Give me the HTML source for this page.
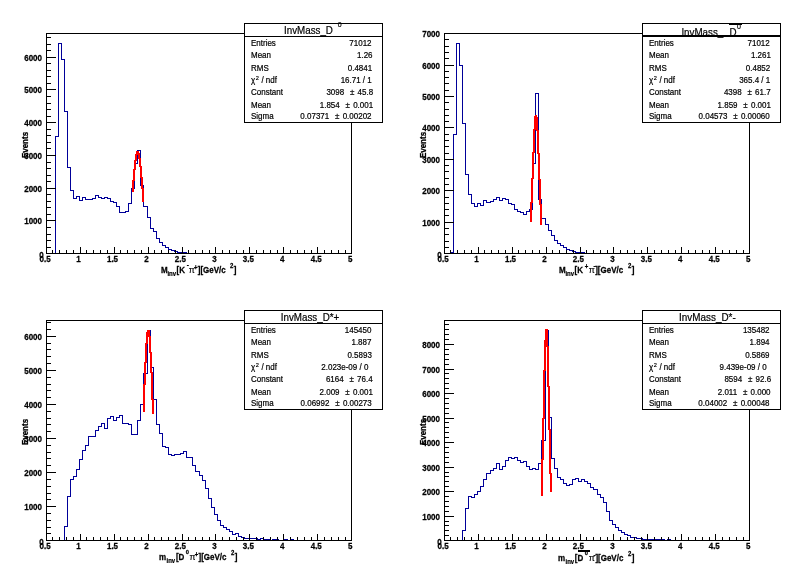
<!DOCTYPE html>
<html lang="en">
<head>
<meta charset="utf-8">
<title>InvMass canvas</title>
<style>
html,body{margin:0;padding:0;background:#fff;}
body{width:796px;height:574px;overflow:hidden;}
svg{display:block;font-family:"Liberation Sans", sans-serif;will-change:transform;}
svg rect, svg path{shape-rendering:crispEdges;}
svg text{fill:#000;}

</style>
</head>
<body>
<svg width="796" height="574" viewBox="0 0 796 574">
<rect x="0" y="0" width="796" height="574" fill="#fff"/>
<g>
<rect x="46" y="33" width="306" height="1" fill="#000"/>
<rect x="351" y="33" width="1" height="221" fill="#000"/>
<path d="M46.5 253.5 L46.5 253.5 L49.5 253.5 L49.5 253.5 L52.5 253.5 L52.5 253.5 L55.5 253.5 L55.5 136.5 L58.5 136.5 L58.5 43.5 L61.5 43.5 L61.5 59.5 L64.5 59.5 L64.5 111.5 L67.5 111.5 L67.5 167.5 L70.5 167.5 L70.5 190.5 L73.5 190.5 L73.5 198.5 L76.5 198.5 L76.5 196.5 L79.5 196.5 L79.5 200.5 L82.5 200.5 L82.5 197.5 L85.5 197.5 L85.5 199.5 L88.5 199.5 L88.5 199.5 L92.5 199.5 L92.5 198.5 L95.5 198.5 L95.5 195.5 L98.5 195.5 L98.5 197.5 L101.5 197.5 L101.5 198.5 L104.5 198.5 L104.5 197.5 L107.5 197.5 L107.5 198.5 L110.5 198.5 L110.5 201.5 L113.5 201.5 L113.5 202.5 L116.5 202.5 L116.5 206.5 L119.5 206.5 L119.5 212.5 L122.5 212.5 L122.5 212.5 L125.5 212.5 L125.5 211.5 L128.5 211.5 L128.5 203.5 L131.5 203.5 L131.5 188.5 L134.5 188.5 L134.5 163.5 L137.5 163.5 L137.5 150.5 L140.5 150.5 L140.5 185.5 L143.5 185.5 L143.5 206.5 L147.5 206.5 L147.5 217.5 L150.5 217.5 L150.5 228.5 L153.5 228.5 L153.5 231.5 L156.5 231.5 L156.5 238.5 L159.5 238.5 L159.5 242.5 L162.5 242.5 L162.5 245.5 L165.5 245.5 L165.5 247.5 L168.5 247.5 L168.5 249.5 L171.5 249.5 L171.5 250.5 L174.5 250.5 L174.5 251.5 L177.5 251.5 L177.5 252.5 L180.5 252.5 L180.5 252.5 L183.5 252.5 L183.5 252.5 L186.5 252.5 L186.5 253.5 L189.5 253.5 L189.5 253.5 L192.5 253.5 L192.5 253.5 L195.5 253.5 L195.5 253.5 L199.5 253.5 L199.5 253.5 L202.5 253.5 L202.5 253.5 L205.5 253.5 L205.5 253.5 L208.5 253.5 L208.5 253.5 L211.5 253.5 L211.5 253.5 L214.5 253.5 L214.5 253.5 L217.5 253.5 L217.5 253.5 L220.5 253.5 L220.5 253.5 L223.5 253.5 L223.5 253.5 L226.5 253.5 L226.5 253.5 L229.5 253.5 L229.5 253.5 L232.5 253.5 L232.5 253.5 L235.5 253.5 L235.5 253.5 L238.5 253.5 L238.5 253.5 L241.5 253.5 L241.5 253.5 L244.5 253.5 L244.5 253.5 L247.5 253.5 L247.5 253.5 L250.5 253.5 L250.5 253.5 L254.5 253.5 L254.5 253.5 L257.5 253.5 L257.5 253.5 L260.5 253.5 L260.5 253.5 L263.5 253.5 L263.5 253.5 L266.5 253.5 L266.5 253.5 L269.5 253.5 L269.5 253.5 L272.5 253.5 L272.5 253.5 L275.5 253.5 L275.5 253.5 L278.5 253.5 L278.5 253.5 L281.5 253.5 L281.5 253.5 L284.5 253.5 L284.5 253.5 L287.5 253.5 L287.5 253.5 L290.5 253.5 L290.5 253.5 L293.5 253.5 L293.5 253.5 L296.5 253.5 L296.5 253.5 L299.5 253.5 L299.5 253.5 L302.5 253.5 L302.5 253.5 L305.5 253.5 L305.5 253.5 L309.5 253.5 L309.5 253.5 L312.5 253.5 L312.5 253.5 L315.5 253.5 L315.5 253.5 L318.5 253.5 L318.5 253.5 L321.5 253.5 L321.5 253.5 L324.5 253.5 L324.5 253.5 L327.5 253.5 L327.5 253.5 L330.5 253.5 L330.5 253.5 L333.5 253.5 L333.5 253.5 L336.5 253.5 L336.5 253.5 L339.5 253.5 L339.5 253.5 L342.5 253.5 L342.5 253.5 L345.5 253.5 L345.5 253.5 L348.5 253.5 L348.5 253.5 L351.5 253.5 L351.5 253.5" fill="none" stroke="#000099" stroke-width="1" stroke-linecap="square" stroke-linejoin="miter"/>
<rect x="132" y="180" width="1" height="12" fill="#ff0000"/>
<rect x="133" y="169" width="1" height="23" fill="#ff0000"/>
<rect x="134" y="160" width="1" height="21" fill="#ff0000"/>
<rect x="135" y="154" width="1" height="16" fill="#ff0000"/>
<rect x="136" y="151" width="1" height="10" fill="#ff0000"/>
<rect x="137" y="151" width="1" height="4" fill="#ff0000"/>
<rect x="138" y="151" width="1" height="8" fill="#ff0000"/>
<rect x="139" y="153" width="1" height="14" fill="#ff0000"/>
<rect x="140" y="158" width="1" height="20" fill="#ff0000"/>
<rect x="141" y="166" width="1" height="23" fill="#ff0000"/>
<rect x="142" y="177" width="1" height="25" fill="#ff0000"/>
<rect x="143" y="188" width="1" height="14" fill="#ff0000"/>
<rect x="46" y="253" width="306" height="1" fill="#000"/>
<rect x="46" y="33" width="1" height="221" fill="#000"/>
<rect x="46" y="247" width="1" height="7" fill="#000"/>
<rect x="52" y="250" width="1" height="4" fill="#000"/>
<rect x="59" y="250" width="1" height="4" fill="#000"/>
<rect x="66" y="250" width="1" height="4" fill="#000"/>
<rect x="73" y="250" width="1" height="4" fill="#000"/>
<rect x="80" y="247" width="1" height="7" fill="#000"/>
<rect x="86" y="250" width="1" height="4" fill="#000"/>
<rect x="93" y="250" width="1" height="4" fill="#000"/>
<rect x="100" y="250" width="1" height="4" fill="#000"/>
<rect x="107" y="250" width="1" height="4" fill="#000"/>
<rect x="114" y="247" width="1" height="7" fill="#000"/>
<rect x="120" y="250" width="1" height="4" fill="#000"/>
<rect x="127" y="250" width="1" height="4" fill="#000"/>
<rect x="134" y="250" width="1" height="4" fill="#000"/>
<rect x="141" y="250" width="1" height="4" fill="#000"/>
<rect x="148" y="247" width="1" height="7" fill="#000"/>
<rect x="154" y="250" width="1" height="4" fill="#000"/>
<rect x="161" y="250" width="1" height="4" fill="#000"/>
<rect x="168" y="250" width="1" height="4" fill="#000"/>
<rect x="175" y="250" width="1" height="4" fill="#000"/>
<rect x="182" y="247" width="1" height="7" fill="#000"/>
<rect x="188" y="250" width="1" height="4" fill="#000"/>
<rect x="195" y="250" width="1" height="4" fill="#000"/>
<rect x="202" y="250" width="1" height="4" fill="#000"/>
<rect x="209" y="250" width="1" height="4" fill="#000"/>
<rect x="215" y="247" width="1" height="7" fill="#000"/>
<rect x="222" y="250" width="1" height="4" fill="#000"/>
<rect x="229" y="250" width="1" height="4" fill="#000"/>
<rect x="236" y="250" width="1" height="4" fill="#000"/>
<rect x="243" y="250" width="1" height="4" fill="#000"/>
<rect x="249" y="247" width="1" height="7" fill="#000"/>
<rect x="256" y="250" width="1" height="4" fill="#000"/>
<rect x="263" y="250" width="1" height="4" fill="#000"/>
<rect x="270" y="250" width="1" height="4" fill="#000"/>
<rect x="277" y="250" width="1" height="4" fill="#000"/>
<rect x="283" y="247" width="1" height="7" fill="#000"/>
<rect x="290" y="250" width="1" height="4" fill="#000"/>
<rect x="297" y="250" width="1" height="4" fill="#000"/>
<rect x="304" y="250" width="1" height="4" fill="#000"/>
<rect x="311" y="250" width="1" height="4" fill="#000"/>
<rect x="317" y="247" width="1" height="7" fill="#000"/>
<rect x="324" y="250" width="1" height="4" fill="#000"/>
<rect x="331" y="250" width="1" height="4" fill="#000"/>
<rect x="338" y="250" width="1" height="4" fill="#000"/>
<rect x="345" y="250" width="1" height="4" fill="#000"/>
<rect x="351" y="247" width="1" height="7" fill="#000"/>
<rect x="46" y="253" width="10" height="1" fill="#000"/>
<rect x="46" y="247" width="5" height="1" fill="#000"/>
<rect x="46" y="240" width="5" height="1" fill="#000"/>
<rect x="46" y="234" width="5" height="1" fill="#000"/>
<rect x="46" y="227" width="5" height="1" fill="#000"/>
<rect x="46" y="220" width="10" height="1" fill="#000"/>
<rect x="46" y="214" width="5" height="1" fill="#000"/>
<rect x="46" y="207" width="5" height="1" fill="#000"/>
<rect x="46" y="201" width="5" height="1" fill="#000"/>
<rect x="46" y="194" width="5" height="1" fill="#000"/>
<rect x="46" y="188" width="10" height="1" fill="#000"/>
<rect x="46" y="181" width="5" height="1" fill="#000"/>
<rect x="46" y="175" width="5" height="1" fill="#000"/>
<rect x="46" y="168" width="5" height="1" fill="#000"/>
<rect x="46" y="162" width="5" height="1" fill="#000"/>
<rect x="46" y="155" width="10" height="1" fill="#000"/>
<rect x="46" y="148" width="5" height="1" fill="#000"/>
<rect x="46" y="142" width="5" height="1" fill="#000"/>
<rect x="46" y="135" width="5" height="1" fill="#000"/>
<rect x="46" y="129" width="5" height="1" fill="#000"/>
<rect x="46" y="122" width="10" height="1" fill="#000"/>
<rect x="46" y="116" width="5" height="1" fill="#000"/>
<rect x="46" y="109" width="5" height="1" fill="#000"/>
<rect x="46" y="103" width="5" height="1" fill="#000"/>
<rect x="46" y="96" width="5" height="1" fill="#000"/>
<rect x="46" y="89" width="10" height="1" fill="#000"/>
<rect x="46" y="83" width="5" height="1" fill="#000"/>
<rect x="46" y="76" width="5" height="1" fill="#000"/>
<rect x="46" y="70" width="5" height="1" fill="#000"/>
<rect x="46" y="63" width="5" height="1" fill="#000"/>
<rect x="46" y="57" width="10" height="1" fill="#000"/>
<rect x="46" y="50" width="5" height="1" fill="#000"/>
<rect x="46" y="44" width="5" height="1" fill="#000"/>
<rect x="46" y="37" width="5" height="1" fill="#000"/>
</g>
<g class="t" font-weight="bold" font-size="8" stroke="#000" stroke-width="0.25">
<text transform="translate(45.10 262.30) scale(0.952 1)" font-size="8.40" text-anchor="middle">0.5</text>
<text transform="translate(78.56 262.00) scale(0.952 1)" font-size="8.40" text-anchor="middle">1</text>
<text transform="translate(112.51 262.00) scale(0.952 1)" font-size="8.40" text-anchor="middle">1.5</text>
<text transform="translate(146.47 262.00) scale(0.952 1)" font-size="8.40" text-anchor="middle">2</text>
<text transform="translate(180.42 262.00) scale(0.952 1)" font-size="8.40" text-anchor="middle">2.5</text>
<text transform="translate(214.37 262.00) scale(0.952 1)" font-size="8.40" text-anchor="middle">3</text>
<text transform="translate(248.33 262.00) scale(0.952 1)" font-size="8.40" text-anchor="middle">3.5</text>
<text transform="translate(282.28 262.00) scale(0.952 1)" font-size="8.40" text-anchor="middle">4</text>
<text transform="translate(316.24 262.00) scale(0.952 1)" font-size="8.40" text-anchor="middle">4.5</text>
<text transform="translate(350.19 262.00) scale(0.952 1)" font-size="8.40" text-anchor="middle">5</text>
<text transform="translate(43.60 258.10) scale(0.952 1)" font-size="8.40" text-anchor="end">0</text>
<text transform="translate(42.00 224.00) scale(0.952 1)" font-size="8.40" text-anchor="end">1000</text>
<text transform="translate(42.00 192.00) scale(0.952 1)" font-size="8.40" text-anchor="end">2000</text>
<text transform="translate(42.00 159.00) scale(0.952 1)" font-size="8.40" text-anchor="end">3000</text>
<text transform="translate(42.00 126.00) scale(0.952 1)" font-size="8.40" text-anchor="end">4000</text>
<text transform="translate(42.00 93.00) scale(0.952 1)" font-size="8.40" text-anchor="end">5000</text>
<text transform="translate(42.00 61.00) scale(0.952 1)" font-size="8.40" text-anchor="end">6000</text>
<text transform="translate(28.4 145.0) rotate(-90) scale(0.952 1)" font-size="8.40" text-anchor="middle">Events</text>
<text transform="translate(161.00 273.00) scale(0.952 1)" font-size="8.40">M</text>
<text transform="translate(167.40 276.30) scale(0.952 1)" font-size="6.30" stroke-width="0.2">inv</text>
<text transform="translate(176.50 273.00) scale(0.952 1)" font-size="8.40">[K</text>
<text transform="translate(186.80 266.60) scale(0.952 1)" font-size="6.72">-</text>
<text transform="translate(188.70 273.00) scale(0.952 1)" font-size="9.24" font-weight="normal" stroke-width="0.15">π</text>
<text transform="translate(193.90 269.60) scale(0.952 1)" font-size="6.30">+</text>
<text transform="translate(197.80 273.00) scale(0.952 1)" font-size="8.40">][GeV/c</text>
<text transform="translate(230.00 268.20) scale(0.952 1)" font-size="6.30">2</text>
<text transform="translate(233.80 273.00) scale(0.952 1)" font-size="8.40">]</text>
</g>
<rect x="244" y="23" width="139" height="100" fill="#fff"/>
<g>
<rect x="244" y="23" width="139" height="1" fill="#000"/>
<rect x="244" y="122" width="139" height="1" fill="#000"/>
<rect x="244" y="23" width="1" height="100" fill="#000"/>
<rect x="382" y="23" width="1" height="100" fill="#000"/>
<rect x="244" y="36" width="139" height="1" fill="#000"/>
</g>
<g class="t" font-size="9.8" stroke="#000" stroke-width="0.2">
<text transform="translate(284.00 34.00) scale(0.952 1)" font-size="10.29">InvMass_D</text>
<text transform="translate(337.70 27.00) scale(0.952 1)" font-size="7.35">0</text>
</g>
<g class="t" font-size="8" stroke="#000" stroke-width="0.2">
<text transform="translate(251.00 46.00) scale(0.952 1)" font-size="8.40">Entries</text>
<text transform="translate(371.55 46.00) scale(0.952 1)" font-size="8.40" text-anchor="end">71012</text>
<text transform="translate(251.00 58.00) scale(0.952 1)" font-size="8.40">Mean</text>
<text transform="translate(372.55 58.00) scale(0.952 1)" font-size="8.40" text-anchor="end">1.26</text>
<text transform="translate(251.00 71.00) scale(0.952 1)" font-size="8.40">RMS</text>
<text transform="translate(372.15 71.00) scale(0.952 1)" font-size="8.40" text-anchor="end">0.4841</text>
<text transform="translate(251.00 83.00) scale(0.952 1)" font-size="8.40">χ</text>
<text transform="translate(255.80 80.00) scale(0.952 1)" font-size="5.88">2</text>
<text transform="translate(261.40 83.00) scale(0.952 1)" font-size="8.40">/ ndf</text>
<text transform="translate(371.75 83.00) scale(0.952 1)" font-size="8.40" text-anchor="end">16.71 / 1</text>
<text transform="translate(251.00 95.00) scale(0.952 1)" font-size="8.40">Constant</text>
<text transform="translate(373.15 95.00) scale(0.952 1)" font-size="8.40" text-anchor="end">45.8</text>
<text transform="translate(349.98 95.00) scale(0.952 1)" font-size="8.40">±</text>
<text transform="translate(344.18 95.00) scale(0.952 1)" font-size="8.40" text-anchor="end">3098</text>
<text transform="translate(251.00 108.00) scale(0.952 1)" font-size="8.40">Mean</text>
<text transform="translate(373.15 108.00) scale(0.952 1)" font-size="8.40" text-anchor="end">0.001</text>
<text transform="translate(345.53 108.00) scale(0.952 1)" font-size="8.40">±</text>
<text transform="translate(339.73 108.00) scale(0.952 1)" font-size="8.40" text-anchor="end">1.854</text>
<text transform="translate(251.00 119.00) scale(0.952 1)" font-size="8.40">Sigma</text>
<text transform="translate(371.55 119.00) scale(0.952 1)" font-size="8.40" text-anchor="end">0.00202</text>
<text transform="translate(335.03 119.00) scale(0.952 1)" font-size="8.40">±</text>
<text transform="translate(329.23 119.00) scale(0.952 1)" font-size="8.40" text-anchor="end">0.07371</text>
</g>
<g>
<rect x="444" y="33" width="306" height="1" fill="#000"/>
<rect x="749" y="33" width="1" height="221" fill="#000"/>
<path d="M444.5 253.5 L444.5 253.5 L447.5 253.5 L447.5 253.5 L450.5 253.5 L450.5 252.5 L453.5 252.5 L453.5 134.5 L456.5 134.5 L456.5 43.5 L459.5 43.5 L459.5 65.5 L462.5 65.5 L462.5 123.5 L465.5 123.5 L465.5 174.5 L468.5 174.5 L468.5 194.5 L471.5 194.5 L471.5 203.5 L474.5 203.5 L474.5 206.5 L477.5 206.5 L477.5 203.5 L480.5 203.5 L480.5 205.5 L483.5 205.5 L483.5 200.5 L486.5 200.5 L486.5 202.5 L490.5 202.5 L490.5 201.5 L493.5 201.5 L493.5 199.5 L496.5 199.5 L496.5 197.5 L499.5 197.5 L499.5 200.5 L502.5 200.5 L502.5 198.5 L505.5 198.5 L505.5 199.5 L508.5 199.5 L508.5 203.5 L511.5 203.5 L511.5 204.5 L514.5 204.5 L514.5 209.5 L517.5 209.5 L517.5 211.5 L520.5 211.5 L520.5 212.5 L523.5 212.5 L523.5 214.5 L526.5 214.5 L526.5 211.5 L529.5 211.5 L529.5 209.5 L532.5 209.5 L532.5 163.5 L535.5 163.5 L535.5 93.5 L538.5 93.5 L538.5 199.5 L541.5 199.5 L541.5 218.5 L545.5 218.5 L545.5 224.5 L548.5 224.5 L548.5 230.5 L551.5 230.5 L551.5 235.5 L554.5 235.5 L554.5 240.5 L557.5 240.5 L557.5 243.5 L560.5 243.5 L560.5 245.5 L563.5 245.5 L563.5 247.5 L566.5 247.5 L566.5 249.5 L569.5 249.5 L569.5 250.5 L572.5 250.5 L572.5 251.5 L575.5 251.5 L575.5 252.5 L578.5 252.5 L578.5 252.5 L581.5 252.5 L581.5 252.5 L584.5 252.5 L584.5 253.5 L587.5 253.5 L587.5 253.5 L590.5 253.5 L590.5 253.5 L593.5 253.5 L593.5 253.5 L597.5 253.5 L597.5 253.5 L600.5 253.5 L600.5 253.5 L603.5 253.5 L603.5 253.5 L606.5 253.5 L606.5 253.5 L609.5 253.5 L609.5 253.5 L612.5 253.5 L612.5 253.5 L615.5 253.5 L615.5 253.5 L618.5 253.5 L618.5 253.5 L621.5 253.5 L621.5 253.5 L624.5 253.5 L624.5 253.5 L627.5 253.5 L627.5 253.5 L630.5 253.5 L630.5 253.5 L633.5 253.5 L633.5 253.5 L636.5 253.5 L636.5 253.5 L639.5 253.5 L639.5 253.5 L642.5 253.5 L642.5 253.5 L645.5 253.5 L645.5 253.5 L648.5 253.5 L648.5 253.5 L652.5 253.5 L652.5 253.5 L655.5 253.5 L655.5 253.5 L658.5 253.5 L658.5 253.5 L661.5 253.5 L661.5 253.5 L664.5 253.5 L664.5 253.5 L667.5 253.5 L667.5 253.5 L670.5 253.5 L670.5 253.5 L673.5 253.5 L673.5 253.5 L676.5 253.5 L676.5 253.5 L679.5 253.5 L679.5 253.5 L682.5 253.5 L682.5 253.5 L685.5 253.5 L685.5 253.5 L688.5 253.5 L688.5 253.5 L691.5 253.5 L691.5 253.5 L694.5 253.5 L694.5 253.5 L697.5 253.5 L697.5 253.5 L700.5 253.5 L700.5 253.5 L703.5 253.5 L703.5 253.5 L707.5 253.5 L707.5 253.5 L710.5 253.5 L710.5 253.5 L713.5 253.5 L713.5 253.5 L716.5 253.5 L716.5 253.5 L719.5 253.5 L719.5 253.5 L722.5 253.5 L722.5 253.5 L725.5 253.5 L725.5 253.5 L728.5 253.5 L728.5 253.5 L731.5 253.5 L731.5 253.5 L734.5 253.5 L734.5 253.5 L737.5 253.5 L737.5 253.5 L740.5 253.5 L740.5 253.5 L743.5 253.5 L743.5 253.5 L746.5 253.5 L746.5 253.5 L749.5 253.5 L749.5 253.5" fill="none" stroke="#000099" stroke-width="1" stroke-linecap="square" stroke-linejoin="miter"/>
<rect x="530" y="202" width="1" height="20" fill="#ff0000"/>
<rect x="531" y="178" width="1" height="44" fill="#ff0000"/>
<rect x="532" y="152" width="1" height="51" fill="#ff0000"/>
<rect x="533" y="129" width="1" height="50" fill="#ff0000"/>
<rect x="534" y="116" width="1" height="37" fill="#ff0000"/>
<rect x="535" y="115" width="1" height="15" fill="#ff0000"/>
<rect x="536" y="115" width="1" height="16" fill="#ff0000"/>
<rect x="537" y="117" width="1" height="37" fill="#ff0000"/>
<rect x="538" y="130" width="1" height="50" fill="#ff0000"/>
<rect x="539" y="153" width="1" height="52" fill="#ff0000"/>
<rect x="540" y="179" width="1" height="46" fill="#ff0000"/>
<rect x="541" y="204" width="1" height="21" fill="#ff0000"/>
<rect x="444" y="253" width="306" height="1" fill="#000"/>
<rect x="444" y="33" width="1" height="221" fill="#000"/>
<rect x="444" y="247" width="1" height="7" fill="#000"/>
<rect x="450" y="250" width="1" height="4" fill="#000"/>
<rect x="457" y="250" width="1" height="4" fill="#000"/>
<rect x="464" y="250" width="1" height="4" fill="#000"/>
<rect x="471" y="250" width="1" height="4" fill="#000"/>
<rect x="478" y="247" width="1" height="7" fill="#000"/>
<rect x="484" y="250" width="1" height="4" fill="#000"/>
<rect x="491" y="250" width="1" height="4" fill="#000"/>
<rect x="498" y="250" width="1" height="4" fill="#000"/>
<rect x="505" y="250" width="1" height="4" fill="#000"/>
<rect x="512" y="247" width="1" height="7" fill="#000"/>
<rect x="518" y="250" width="1" height="4" fill="#000"/>
<rect x="525" y="250" width="1" height="4" fill="#000"/>
<rect x="532" y="250" width="1" height="4" fill="#000"/>
<rect x="539" y="250" width="1" height="4" fill="#000"/>
<rect x="546" y="247" width="1" height="7" fill="#000"/>
<rect x="552" y="250" width="1" height="4" fill="#000"/>
<rect x="559" y="250" width="1" height="4" fill="#000"/>
<rect x="566" y="250" width="1" height="4" fill="#000"/>
<rect x="573" y="250" width="1" height="4" fill="#000"/>
<rect x="580" y="247" width="1" height="7" fill="#000"/>
<rect x="586" y="250" width="1" height="4" fill="#000"/>
<rect x="593" y="250" width="1" height="4" fill="#000"/>
<rect x="600" y="250" width="1" height="4" fill="#000"/>
<rect x="607" y="250" width="1" height="4" fill="#000"/>
<rect x="613" y="247" width="1" height="7" fill="#000"/>
<rect x="620" y="250" width="1" height="4" fill="#000"/>
<rect x="627" y="250" width="1" height="4" fill="#000"/>
<rect x="634" y="250" width="1" height="4" fill="#000"/>
<rect x="641" y="250" width="1" height="4" fill="#000"/>
<rect x="647" y="247" width="1" height="7" fill="#000"/>
<rect x="654" y="250" width="1" height="4" fill="#000"/>
<rect x="661" y="250" width="1" height="4" fill="#000"/>
<rect x="668" y="250" width="1" height="4" fill="#000"/>
<rect x="675" y="250" width="1" height="4" fill="#000"/>
<rect x="681" y="247" width="1" height="7" fill="#000"/>
<rect x="688" y="250" width="1" height="4" fill="#000"/>
<rect x="695" y="250" width="1" height="4" fill="#000"/>
<rect x="702" y="250" width="1" height="4" fill="#000"/>
<rect x="709" y="250" width="1" height="4" fill="#000"/>
<rect x="715" y="247" width="1" height="7" fill="#000"/>
<rect x="722" y="250" width="1" height="4" fill="#000"/>
<rect x="729" y="250" width="1" height="4" fill="#000"/>
<rect x="736" y="250" width="1" height="4" fill="#000"/>
<rect x="743" y="250" width="1" height="4" fill="#000"/>
<rect x="749" y="247" width="1" height="7" fill="#000"/>
<rect x="444" y="253" width="10" height="1" fill="#000"/>
<rect x="444" y="247" width="5" height="1" fill="#000"/>
<rect x="444" y="241" width="5" height="1" fill="#000"/>
<rect x="444" y="234" width="5" height="1" fill="#000"/>
<rect x="444" y="228" width="5" height="1" fill="#000"/>
<rect x="444" y="222" width="10" height="1" fill="#000"/>
<rect x="444" y="215" width="5" height="1" fill="#000"/>
<rect x="444" y="209" width="5" height="1" fill="#000"/>
<rect x="444" y="203" width="5" height="1" fill="#000"/>
<rect x="444" y="197" width="5" height="1" fill="#000"/>
<rect x="444" y="190" width="10" height="1" fill="#000"/>
<rect x="444" y="184" width="5" height="1" fill="#000"/>
<rect x="444" y="178" width="5" height="1" fill="#000"/>
<rect x="444" y="171" width="5" height="1" fill="#000"/>
<rect x="444" y="165" width="5" height="1" fill="#000"/>
<rect x="444" y="159" width="10" height="1" fill="#000"/>
<rect x="444" y="153" width="5" height="1" fill="#000"/>
<rect x="444" y="146" width="5" height="1" fill="#000"/>
<rect x="444" y="140" width="5" height="1" fill="#000"/>
<rect x="444" y="134" width="5" height="1" fill="#000"/>
<rect x="444" y="127" width="10" height="1" fill="#000"/>
<rect x="444" y="121" width="5" height="1" fill="#000"/>
<rect x="444" y="115" width="5" height="1" fill="#000"/>
<rect x="444" y="109" width="5" height="1" fill="#000"/>
<rect x="444" y="102" width="5" height="1" fill="#000"/>
<rect x="444" y="96" width="10" height="1" fill="#000"/>
<rect x="444" y="90" width="5" height="1" fill="#000"/>
<rect x="444" y="83" width="5" height="1" fill="#000"/>
<rect x="444" y="77" width="5" height="1" fill="#000"/>
<rect x="444" y="71" width="5" height="1" fill="#000"/>
<rect x="444" y="65" width="10" height="1" fill="#000"/>
<rect x="444" y="58" width="5" height="1" fill="#000"/>
<rect x="444" y="52" width="5" height="1" fill="#000"/>
<rect x="444" y="46" width="5" height="1" fill="#000"/>
<rect x="444" y="39" width="5" height="1" fill="#000"/>
<rect x="444" y="33" width="10" height="1" fill="#000"/>
</g>
<g class="t" font-weight="bold" font-size="8" stroke="#000" stroke-width="0.25">
<text transform="translate(443.10 262.30) scale(0.952 1)" font-size="8.40" text-anchor="middle">0.5</text>
<text transform="translate(476.55 262.00) scale(0.952 1)" font-size="8.40" text-anchor="middle">1</text>
<text transform="translate(510.51 262.00) scale(0.952 1)" font-size="8.40" text-anchor="middle">1.5</text>
<text transform="translate(544.46 262.00) scale(0.952 1)" font-size="8.40" text-anchor="middle">2</text>
<text transform="translate(578.42 262.00) scale(0.952 1)" font-size="8.40" text-anchor="middle">2.5</text>
<text transform="translate(612.37 262.00) scale(0.952 1)" font-size="8.40" text-anchor="middle">3</text>
<text transform="translate(646.33 262.00) scale(0.952 1)" font-size="8.40" text-anchor="middle">3.5</text>
<text transform="translate(680.28 262.00) scale(0.952 1)" font-size="8.40" text-anchor="middle">4</text>
<text transform="translate(714.24 262.00) scale(0.952 1)" font-size="8.40" text-anchor="middle">4.5</text>
<text transform="translate(748.19 262.00) scale(0.952 1)" font-size="8.40" text-anchor="middle">5</text>
<text transform="translate(441.60 258.10) scale(0.952 1)" font-size="8.40" text-anchor="end">0</text>
<text transform="translate(440.00 226.00) scale(0.952 1)" font-size="8.40" text-anchor="end">1000</text>
<text transform="translate(440.00 194.00) scale(0.952 1)" font-size="8.40" text-anchor="end">2000</text>
<text transform="translate(440.00 163.00) scale(0.952 1)" font-size="8.40" text-anchor="end">3000</text>
<text transform="translate(440.00 131.00) scale(0.952 1)" font-size="8.40" text-anchor="end">4000</text>
<text transform="translate(440.00 100.00) scale(0.952 1)" font-size="8.40" text-anchor="end">5000</text>
<text transform="translate(440.00 69.00) scale(0.952 1)" font-size="8.40" text-anchor="end">6000</text>
<text transform="translate(440.00 37.00) scale(0.952 1)" font-size="8.40" text-anchor="end">7000</text>
<text transform="translate(426.4 145.0) rotate(-90) scale(0.952 1)" font-size="8.40" text-anchor="middle">Events</text>
<text transform="translate(559.00 273.00) scale(0.952 1)" font-size="8.40">M</text>
<text transform="translate(565.40 276.30) scale(0.952 1)" font-size="6.30" stroke-width="0.2">inv</text>
<text transform="translate(574.50 273.00) scale(0.952 1)" font-size="8.40">[K</text>
<text transform="translate(584.80 268.60) scale(0.952 1)" font-size="6.30">+</text>
<text transform="translate(588.80 273.00) scale(0.952 1)" font-size="9.24" font-weight="normal" stroke-width="0.15">π</text>
<text transform="translate(593.50 268.40) scale(0.952 1)" font-size="6.72">-</text>
<text transform="translate(595.20 273.00) scale(0.952 1)" font-size="8.40">][GeV/c</text>
<text transform="translate(628.00 268.20) scale(0.952 1)" font-size="6.30">2</text>
<text transform="translate(631.80 273.00) scale(0.952 1)" font-size="8.40">]</text>
</g>
<rect x="642" y="23" width="139" height="100" fill="#fff"/>
<g>
<rect x="642" y="23" width="139" height="1" fill="#000"/>
<rect x="642" y="122" width="139" height="1" fill="#000"/>
<rect x="642" y="23" width="1" height="100" fill="#000"/>
<rect x="780" y="23" width="1" height="100" fill="#000"/>
<rect x="642" y="36" width="139" height="1" fill="#000"/>
</g>
<g class="t" font-size="9.8" stroke="#000" stroke-width="0.2">
<text transform="translate(681.40 35.60) scale(0.952 1)" font-size="10.29">InvMass_</text>
<text transform="translate(729.40 35.60) scale(0.952 1)" font-size="10.29">D</text>
<text transform="translate(737.00 28.80) scale(0.952 1)" font-size="7.35">0</text>
<rect x="729" y="24" width="13" height="1" fill="#000" stroke="none"/>
<rect x="642" y="35" width="139" height="2" fill="#000" stroke="none"/>
</g>
<g class="t" font-size="8" stroke="#000" stroke-width="0.2">
<text transform="translate(649.00 46.00) scale(0.952 1)" font-size="8.40">Entries</text>
<text transform="translate(769.75 46.00) scale(0.952 1)" font-size="8.40" text-anchor="end">71012</text>
<text transform="translate(649.00 58.00) scale(0.952 1)" font-size="8.40">Mean</text>
<text transform="translate(770.95 58.00) scale(0.952 1)" font-size="8.40" text-anchor="end">1.261</text>
<text transform="translate(649.00 71.00) scale(0.952 1)" font-size="8.40">RMS</text>
<text transform="translate(770.25 71.00) scale(0.952 1)" font-size="8.40" text-anchor="end">0.4852</text>
<text transform="translate(649.00 83.00) scale(0.952 1)" font-size="8.40">χ</text>
<text transform="translate(653.80 80.00) scale(0.952 1)" font-size="5.88">2</text>
<text transform="translate(659.40 83.00) scale(0.952 1)" font-size="8.40">/ ndf</text>
<text transform="translate(770.25 83.00) scale(0.952 1)" font-size="8.40" text-anchor="end">365.4 / 1</text>
<text transform="translate(649.00 95.00) scale(0.952 1)" font-size="8.40">Constant</text>
<text transform="translate(770.65 95.00) scale(0.952 1)" font-size="8.40" text-anchor="end">61.7</text>
<text transform="translate(747.48 95.00) scale(0.952 1)" font-size="8.40">±</text>
<text transform="translate(741.68 95.00) scale(0.952 1)" font-size="8.40" text-anchor="end">4398</text>
<text transform="translate(649.00 108.00) scale(0.952 1)" font-size="8.40">Mean</text>
<text transform="translate(770.95 108.00) scale(0.952 1)" font-size="8.40" text-anchor="end">0.001</text>
<text transform="translate(743.33 108.00) scale(0.952 1)" font-size="8.40">±</text>
<text transform="translate(737.53 108.00) scale(0.952 1)" font-size="8.40" text-anchor="end">1.859</text>
<text transform="translate(649.00 119.00) scale(0.952 1)" font-size="8.40">Sigma</text>
<text transform="translate(769.75 119.00) scale(0.952 1)" font-size="8.40" text-anchor="end">0.00060</text>
<text transform="translate(733.23 119.00) scale(0.952 1)" font-size="8.40">±</text>
<text transform="translate(727.43 119.00) scale(0.952 1)" font-size="8.40" text-anchor="end">0.04573</text>
</g>
<g>
<rect x="46" y="320" width="306" height="1" fill="#000"/>
<rect x="351" y="320" width="1" height="221" fill="#000"/>
<path d="M46.5 540.5 L46.5 540.5 L49.5 540.5 L49.5 540.5 L52.5 540.5 L52.5 540.5 L55.5 540.5 L55.5 540.5 L58.5 540.5 L58.5 540.5 L61.5 540.5 L61.5 540.5 L64.5 540.5 L64.5 526.5 L67.5 526.5 L67.5 496.5 L70.5 496.5 L70.5 479.5 L73.5 479.5 L73.5 476.5 L76.5 476.5 L76.5 469.5 L79.5 469.5 L79.5 459.5 L82.5 459.5 L82.5 450.5 L85.5 450.5 L85.5 445.5 L88.5 445.5 L88.5 436.5 L92.5 436.5 L92.5 436.5 L95.5 436.5 L95.5 430.5 L98.5 430.5 L98.5 426.5 L101.5 426.5 L101.5 423.5 L104.5 423.5 L104.5 428.5 L107.5 428.5 L107.5 418.5 L110.5 418.5 L110.5 416.5 L113.5 416.5 L113.5 420.5 L116.5 420.5 L116.5 417.5 L119.5 417.5 L119.5 415.5 L122.5 415.5 L122.5 423.5 L125.5 423.5 L125.5 423.5 L128.5 423.5 L128.5 424.5 L131.5 424.5 L131.5 434.5 L134.5 434.5 L134.5 434.5 L137.5 434.5 L137.5 420.5 L140.5 420.5 L140.5 404.5 L143.5 404.5 L143.5 373.5 L147.5 373.5 L147.5 330.5 L150.5 330.5 L150.5 367.5 L153.5 367.5 L153.5 399.5 L156.5 399.5 L156.5 424.5 L159.5 424.5 L159.5 433.5 L162.5 433.5 L162.5 446.5 L165.5 446.5 L165.5 447.5 L168.5 447.5 L168.5 454.5 L171.5 454.5 L171.5 455.5 L174.5 455.5 L174.5 454.5 L177.5 454.5 L177.5 454.5 L180.5 454.5 L180.5 453.5 L183.5 453.5 L183.5 451.5 L186.5 451.5 L186.5 457.5 L189.5 457.5 L189.5 457.5 L192.5 457.5 L192.5 465.5 L195.5 465.5 L195.5 471.5 L199.5 471.5 L199.5 475.5 L202.5 475.5 L202.5 480.5 L205.5 480.5 L205.5 488.5 L208.5 488.5 L208.5 498.5 L211.5 498.5 L211.5 507.5 L214.5 507.5 L214.5 514.5 L217.5 514.5 L217.5 520.5 L220.5 520.5 L220.5 525.5 L223.5 525.5 L223.5 527.5 L226.5 527.5 L226.5 529.5 L229.5 529.5 L229.5 531.5 L232.5 531.5 L232.5 534.5 L235.5 534.5 L235.5 533.5 L238.5 533.5 L238.5 536.5 L241.5 536.5 L241.5 537.5 L244.5 537.5 L244.5 538.5 L247.5 538.5 L247.5 538.5 L250.5 538.5 L250.5 538.5 L254.5 538.5 L254.5 538.5 L257.5 538.5 L257.5 539.5 L260.5 539.5 L260.5 538.5 L263.5 538.5 L263.5 539.5 L266.5 539.5 L266.5 539.5 L269.5 539.5 L269.5 540.5 L272.5 540.5 L272.5 539.5 L275.5 539.5 L275.5 539.5 L278.5 539.5 L278.5 540.5 L281.5 540.5 L281.5 540.5 L284.5 540.5 L284.5 539.5 L287.5 539.5 L287.5 540.5 L290.5 540.5 L290.5 539.5 L293.5 539.5 L293.5 540.5 L296.5 540.5 L296.5 540.5 L299.5 540.5 L299.5 540.5 L302.5 540.5 L302.5 540.5 L305.5 540.5 L305.5 540.5 L309.5 540.5 L309.5 540.5 L312.5 540.5 L312.5 540.5 L315.5 540.5 L315.5 540.5 L318.5 540.5 L318.5 540.5 L321.5 540.5 L321.5 540.5 L324.5 540.5 L324.5 540.5 L327.5 540.5 L327.5 540.5 L330.5 540.5 L330.5 540.5 L333.5 540.5 L333.5 540.5 L336.5 540.5 L336.5 540.5 L339.5 540.5 L339.5 540.5 L342.5 540.5 L342.5 540.5 L345.5 540.5 L345.5 540.5 L348.5 540.5 L348.5 540.5 L351.5 540.5 L351.5 540.5" fill="none" stroke="#000099" stroke-width="1" stroke-linecap="square" stroke-linejoin="miter"/>
<rect x="143" y="384" width="1" height="28" fill="#ff0000"/>
<rect x="144" y="362" width="1" height="50" fill="#ff0000"/>
<rect x="145" y="343" width="1" height="42" fill="#ff0000"/>
<rect x="146" y="332" width="1" height="31" fill="#ff0000"/>
<rect x="147" y="330" width="1" height="14" fill="#ff0000"/>
<rect x="148" y="330" width="1" height="7" fill="#ff0000"/>
<rect x="149" y="330" width="1" height="23" fill="#ff0000"/>
<rect x="150" y="336" width="1" height="37" fill="#ff0000"/>
<rect x="151" y="352" width="1" height="48" fill="#ff0000"/>
<rect x="152" y="372" width="1" height="42" fill="#ff0000"/>
<rect x="153" y="399" width="1" height="15" fill="#ff0000"/>
<rect x="46" y="540" width="306" height="1" fill="#000"/>
<rect x="46" y="320" width="1" height="221" fill="#000"/>
<rect x="46" y="534" width="1" height="7" fill="#000"/>
<rect x="52" y="537" width="1" height="4" fill="#000"/>
<rect x="59" y="537" width="1" height="4" fill="#000"/>
<rect x="66" y="537" width="1" height="4" fill="#000"/>
<rect x="73" y="537" width="1" height="4" fill="#000"/>
<rect x="80" y="534" width="1" height="7" fill="#000"/>
<rect x="86" y="537" width="1" height="4" fill="#000"/>
<rect x="93" y="537" width="1" height="4" fill="#000"/>
<rect x="100" y="537" width="1" height="4" fill="#000"/>
<rect x="107" y="537" width="1" height="4" fill="#000"/>
<rect x="114" y="534" width="1" height="7" fill="#000"/>
<rect x="120" y="537" width="1" height="4" fill="#000"/>
<rect x="127" y="537" width="1" height="4" fill="#000"/>
<rect x="134" y="537" width="1" height="4" fill="#000"/>
<rect x="141" y="537" width="1" height="4" fill="#000"/>
<rect x="148" y="534" width="1" height="7" fill="#000"/>
<rect x="154" y="537" width="1" height="4" fill="#000"/>
<rect x="161" y="537" width="1" height="4" fill="#000"/>
<rect x="168" y="537" width="1" height="4" fill="#000"/>
<rect x="175" y="537" width="1" height="4" fill="#000"/>
<rect x="182" y="534" width="1" height="7" fill="#000"/>
<rect x="188" y="537" width="1" height="4" fill="#000"/>
<rect x="195" y="537" width="1" height="4" fill="#000"/>
<rect x="202" y="537" width="1" height="4" fill="#000"/>
<rect x="209" y="537" width="1" height="4" fill="#000"/>
<rect x="215" y="534" width="1" height="7" fill="#000"/>
<rect x="222" y="537" width="1" height="4" fill="#000"/>
<rect x="229" y="537" width="1" height="4" fill="#000"/>
<rect x="236" y="537" width="1" height="4" fill="#000"/>
<rect x="243" y="537" width="1" height="4" fill="#000"/>
<rect x="249" y="534" width="1" height="7" fill="#000"/>
<rect x="256" y="537" width="1" height="4" fill="#000"/>
<rect x="263" y="537" width="1" height="4" fill="#000"/>
<rect x="270" y="537" width="1" height="4" fill="#000"/>
<rect x="277" y="537" width="1" height="4" fill="#000"/>
<rect x="283" y="534" width="1" height="7" fill="#000"/>
<rect x="290" y="537" width="1" height="4" fill="#000"/>
<rect x="297" y="537" width="1" height="4" fill="#000"/>
<rect x="304" y="537" width="1" height="4" fill="#000"/>
<rect x="311" y="537" width="1" height="4" fill="#000"/>
<rect x="317" y="534" width="1" height="7" fill="#000"/>
<rect x="324" y="537" width="1" height="4" fill="#000"/>
<rect x="331" y="537" width="1" height="4" fill="#000"/>
<rect x="338" y="537" width="1" height="4" fill="#000"/>
<rect x="345" y="537" width="1" height="4" fill="#000"/>
<rect x="351" y="534" width="1" height="7" fill="#000"/>
<rect x="46" y="540" width="10" height="1" fill="#000"/>
<rect x="46" y="533" width="5" height="1" fill="#000"/>
<rect x="46" y="527" width="5" height="1" fill="#000"/>
<rect x="46" y="520" width="5" height="1" fill="#000"/>
<rect x="46" y="513" width="5" height="1" fill="#000"/>
<rect x="46" y="506" width="10" height="1" fill="#000"/>
<rect x="46" y="499" width="5" height="1" fill="#000"/>
<rect x="46" y="493" width="5" height="1" fill="#000"/>
<rect x="46" y="486" width="5" height="1" fill="#000"/>
<rect x="46" y="479" width="5" height="1" fill="#000"/>
<rect x="46" y="472" width="10" height="1" fill="#000"/>
<rect x="46" y="465" width="5" height="1" fill="#000"/>
<rect x="46" y="458" width="5" height="1" fill="#000"/>
<rect x="46" y="452" width="5" height="1" fill="#000"/>
<rect x="46" y="445" width="5" height="1" fill="#000"/>
<rect x="46" y="438" width="10" height="1" fill="#000"/>
<rect x="46" y="431" width="5" height="1" fill="#000"/>
<rect x="46" y="424" width="5" height="1" fill="#000"/>
<rect x="46" y="418" width="5" height="1" fill="#000"/>
<rect x="46" y="411" width="5" height="1" fill="#000"/>
<rect x="46" y="404" width="10" height="1" fill="#000"/>
<rect x="46" y="397" width="5" height="1" fill="#000"/>
<rect x="46" y="390" width="5" height="1" fill="#000"/>
<rect x="46" y="384" width="5" height="1" fill="#000"/>
<rect x="46" y="377" width="5" height="1" fill="#000"/>
<rect x="46" y="370" width="10" height="1" fill="#000"/>
<rect x="46" y="363" width="5" height="1" fill="#000"/>
<rect x="46" y="356" width="5" height="1" fill="#000"/>
<rect x="46" y="349" width="5" height="1" fill="#000"/>
<rect x="46" y="343" width="5" height="1" fill="#000"/>
<rect x="46" y="336" width="10" height="1" fill="#000"/>
<rect x="46" y="329" width="5" height="1" fill="#000"/>
<rect x="46" y="322" width="5" height="1" fill="#000"/>
</g>
<g class="t" font-weight="bold" font-size="8" stroke="#000" stroke-width="0.25">
<text transform="translate(45.10 549.30) scale(0.952 1)" font-size="8.40" text-anchor="middle">0.5</text>
<text transform="translate(78.56 549.00) scale(0.952 1)" font-size="8.40" text-anchor="middle">1</text>
<text transform="translate(112.51 549.00) scale(0.952 1)" font-size="8.40" text-anchor="middle">1.5</text>
<text transform="translate(146.47 549.00) scale(0.952 1)" font-size="8.40" text-anchor="middle">2</text>
<text transform="translate(180.42 549.00) scale(0.952 1)" font-size="8.40" text-anchor="middle">2.5</text>
<text transform="translate(214.37 549.00) scale(0.952 1)" font-size="8.40" text-anchor="middle">3</text>
<text transform="translate(248.33 549.00) scale(0.952 1)" font-size="8.40" text-anchor="middle">3.5</text>
<text transform="translate(282.28 549.00) scale(0.952 1)" font-size="8.40" text-anchor="middle">4</text>
<text transform="translate(316.24 549.00) scale(0.952 1)" font-size="8.40" text-anchor="middle">4.5</text>
<text transform="translate(350.19 549.00) scale(0.952 1)" font-size="8.40" text-anchor="middle">5</text>
<text transform="translate(43.60 545.10) scale(0.952 1)" font-size="8.40" text-anchor="end">0</text>
<text transform="translate(42.00 510.00) scale(0.952 1)" font-size="8.40" text-anchor="end">1000</text>
<text transform="translate(42.00 476.00) scale(0.952 1)" font-size="8.40" text-anchor="end">2000</text>
<text transform="translate(42.00 442.00) scale(0.952 1)" font-size="8.40" text-anchor="end">3000</text>
<text transform="translate(42.00 408.00) scale(0.952 1)" font-size="8.40" text-anchor="end">4000</text>
<text transform="translate(42.00 374.00) scale(0.952 1)" font-size="8.40" text-anchor="end">5000</text>
<text transform="translate(42.00 340.00) scale(0.952 1)" font-size="8.40" text-anchor="end">6000</text>
<text transform="translate(28.4 432.0) rotate(-90) scale(0.952 1)" font-size="8.40" text-anchor="middle">Events</text>
<text transform="translate(159.00 560.00) scale(0.952 1)" font-size="8.40">m</text>
<text transform="translate(166.50 563.30) scale(0.952 1)" font-size="6.30" stroke-width="0.2">inv</text>
<text transform="translate(175.90 560.00) scale(0.952 1)" font-size="8.40">[D</text>
<text transform="translate(185.70 553.90) scale(0.952 1)" font-size="6.09">0</text>
<text transform="translate(189.60 560.00) scale(0.952 1)" font-size="9.24" font-weight="normal" stroke-width="0.15">π</text>
<text transform="translate(194.70 556.60) scale(0.952 1)" font-size="6.30">+</text>
<text transform="translate(198.50 560.00) scale(0.952 1)" font-size="8.40">][GeV/c</text>
<text transform="translate(231.10 555.20) scale(0.952 1)" font-size="6.30">2</text>
<text transform="translate(234.80 560.00) scale(0.952 1)" font-size="8.40">]</text>
</g>
<rect x="244" y="310" width="139" height="100" fill="#fff"/>
<g>
<rect x="244" y="310" width="139" height="1" fill="#000"/>
<rect x="244" y="409" width="139" height="1" fill="#000"/>
<rect x="244" y="310" width="1" height="100" fill="#000"/>
<rect x="382" y="310" width="1" height="100" fill="#000"/>
<rect x="244" y="323" width="139" height="1" fill="#000"/>
</g>
<g class="t" font-size="9.8" stroke="#000" stroke-width="0.2">
<text transform="translate(280.80 320.50) scale(0.952 1)" font-size="10.29">InvMass_D*+</text>
</g>
<g class="t" font-size="8" stroke="#000" stroke-width="0.2">
<text transform="translate(251.00 333.00) scale(0.952 1)" font-size="8.40">Entries</text>
<text transform="translate(371.45 333.00) scale(0.952 1)" font-size="8.40" text-anchor="end">145450</text>
<text transform="translate(251.00 345.00) scale(0.952 1)" font-size="8.40">Mean</text>
<text transform="translate(371.45 345.00) scale(0.952 1)" font-size="8.40" text-anchor="end">1.887</text>
<text transform="translate(251.00 358.00) scale(0.952 1)" font-size="8.40">RMS</text>
<text transform="translate(371.85 358.00) scale(0.952 1)" font-size="8.40" text-anchor="end">0.5893</text>
<text transform="translate(251.00 370.00) scale(0.952 1)" font-size="8.40">χ</text>
<text transform="translate(255.80 367.00) scale(0.952 1)" font-size="5.88">2</text>
<text transform="translate(261.40 370.00) scale(0.952 1)" font-size="8.40">/ ndf</text>
<text transform="translate(368.35 370.00) scale(0.952 1)" font-size="8.40" text-anchor="end">2.023e-09 / 0</text>
<text transform="translate(251.00 382.00) scale(0.952 1)" font-size="8.40">Constant</text>
<text transform="translate(372.65 382.00) scale(0.952 1)" font-size="8.40" text-anchor="end">76.4</text>
<text transform="translate(349.48 382.00) scale(0.952 1)" font-size="8.40">±</text>
<text transform="translate(343.68 382.00) scale(0.952 1)" font-size="8.40" text-anchor="end">6164</text>
<text transform="translate(251.00 395.00) scale(0.952 1)" font-size="8.40">Mean</text>
<text transform="translate(372.95 395.00) scale(0.952 1)" font-size="8.40" text-anchor="end">0.001</text>
<text transform="translate(345.33 395.00) scale(0.952 1)" font-size="8.40">±</text>
<text transform="translate(339.53 395.00) scale(0.952 1)" font-size="8.40" text-anchor="end">2.009</text>
<text transform="translate(251.00 406.00) scale(0.952 1)" font-size="8.40">Sigma</text>
<text transform="translate(371.75 406.00) scale(0.952 1)" font-size="8.40" text-anchor="end">0.00273</text>
<text transform="translate(335.23 406.00) scale(0.952 1)" font-size="8.40">±</text>
<text transform="translate(329.43 406.00) scale(0.952 1)" font-size="8.40" text-anchor="end">0.06992</text>
</g>
<g>
<rect x="444" y="320" width="306" height="1" fill="#000"/>
<rect x="749" y="320" width="1" height="221" fill="#000"/>
<path d="M444.5 540.5 L444.5 540.5 L447.5 540.5 L447.5 540.5 L450.5 540.5 L450.5 540.5 L453.5 540.5 L453.5 540.5 L456.5 540.5 L456.5 540.5 L459.5 540.5 L459.5 540.5 L462.5 540.5 L462.5 530.5 L465.5 530.5 L465.5 508.5 L468.5 508.5 L468.5 496.5 L471.5 496.5 L471.5 497.5 L474.5 497.5 L474.5 494.5 L477.5 494.5 L477.5 491.5 L480.5 491.5 L480.5 486.5 L483.5 486.5 L483.5 479.5 L486.5 479.5 L486.5 473.5 L490.5 473.5 L490.5 470.5 L493.5 470.5 L493.5 468.5 L496.5 468.5 L496.5 463.5 L499.5 463.5 L499.5 469.5 L502.5 469.5 L502.5 466.5 L505.5 466.5 L505.5 460.5 L508.5 460.5 L508.5 457.5 L511.5 457.5 L511.5 458.5 L514.5 458.5 L514.5 457.5 L517.5 457.5 L517.5 460.5 L520.5 460.5 L520.5 462.5 L523.5 462.5 L523.5 461.5 L526.5 461.5 L526.5 466.5 L529.5 466.5 L529.5 469.5 L532.5 469.5 L532.5 468.5 L535.5 468.5 L535.5 469.5 L538.5 469.5 L538.5 463.5 L541.5 463.5 L541.5 440.5 L545.5 440.5 L545.5 330.5 L548.5 330.5 L548.5 417.5 L551.5 417.5 L551.5 458.5 L554.5 458.5 L554.5 468.5 L557.5 468.5 L557.5 477.5 L560.5 477.5 L560.5 479.5 L563.5 479.5 L563.5 483.5 L566.5 483.5 L566.5 485.5 L569.5 485.5 L569.5 484.5 L572.5 484.5 L572.5 479.5 L575.5 479.5 L575.5 478.5 L578.5 478.5 L578.5 481.5 L581.5 481.5 L581.5 479.5 L584.5 479.5 L584.5 481.5 L587.5 481.5 L587.5 483.5 L590.5 483.5 L590.5 487.5 L593.5 487.5 L593.5 489.5 L597.5 489.5 L597.5 494.5 L600.5 494.5 L600.5 497.5 L603.5 497.5 L603.5 502.5 L606.5 502.5 L606.5 511.5 L609.5 511.5 L609.5 520.5 L612.5 520.5 L612.5 524.5 L615.5 524.5 L615.5 527.5 L618.5 527.5 L618.5 530.5 L621.5 530.5 L621.5 532.5 L624.5 532.5 L624.5 534.5 L627.5 534.5 L627.5 535.5 L630.5 535.5 L630.5 537.5 L633.5 537.5 L633.5 537.5 L636.5 537.5 L636.5 538.5 L639.5 538.5 L639.5 538.5 L642.5 538.5 L642.5 539.5 L645.5 539.5 L645.5 539.5 L648.5 539.5 L648.5 539.5 L652.5 539.5 L652.5 539.5 L655.5 539.5 L655.5 539.5 L658.5 539.5 L658.5 539.5 L661.5 539.5 L661.5 539.5 L664.5 539.5 L664.5 540.5 L667.5 540.5 L667.5 539.5 L670.5 539.5 L670.5 540.5 L673.5 540.5 L673.5 540.5 L676.5 540.5 L676.5 540.5 L679.5 540.5 L679.5 540.5 L682.5 540.5 L682.5 540.5 L685.5 540.5 L685.5 540.5 L688.5 540.5 L688.5 540.5 L691.5 540.5 L691.5 540.5 L694.5 540.5 L694.5 540.5 L697.5 540.5 L697.5 540.5 L700.5 540.5 L700.5 540.5 L703.5 540.5 L703.5 540.5 L707.5 540.5 L707.5 540.5 L710.5 540.5 L710.5 540.5 L713.5 540.5 L713.5 540.5 L716.5 540.5 L716.5 540.5 L719.5 540.5 L719.5 540.5 L722.5 540.5 L722.5 540.5 L725.5 540.5 L725.5 540.5 L728.5 540.5 L728.5 540.5 L731.5 540.5 L731.5 540.5 L734.5 540.5 L734.5 540.5 L737.5 540.5 L737.5 540.5 L740.5 540.5 L740.5 540.5 L743.5 540.5 L743.5 540.5 L746.5 540.5 L746.5 540.5 L749.5 540.5 L749.5 540.5" fill="none" stroke="#000099" stroke-width="1" stroke-linecap="square" stroke-linejoin="miter"/>
<rect x="541" y="459" width="1" height="37" fill="#ff0000"/>
<rect x="542" y="418" width="1" height="78" fill="#ff0000"/>
<rect x="543" y="370" width="1" height="90" fill="#ff0000"/>
<rect x="544" y="340" width="1" height="79" fill="#ff0000"/>
<rect x="545" y="329" width="1" height="42" fill="#ff0000"/>
<rect x="546" y="329" width="1" height="18" fill="#ff0000"/>
<rect x="547" y="329" width="1" height="58" fill="#ff0000"/>
<rect x="548" y="346" width="1" height="84" fill="#ff0000"/>
<rect x="549" y="386" width="1" height="88" fill="#ff0000"/>
<rect x="550" y="429" width="1" height="63" fill="#ff0000"/>
<rect x="551" y="473" width="1" height="19" fill="#ff0000"/>
<rect x="444" y="540" width="306" height="1" fill="#000"/>
<rect x="444" y="320" width="1" height="221" fill="#000"/>
<rect x="444" y="534" width="1" height="7" fill="#000"/>
<rect x="450" y="537" width="1" height="4" fill="#000"/>
<rect x="457" y="537" width="1" height="4" fill="#000"/>
<rect x="464" y="537" width="1" height="4" fill="#000"/>
<rect x="471" y="537" width="1" height="4" fill="#000"/>
<rect x="478" y="534" width="1" height="7" fill="#000"/>
<rect x="484" y="537" width="1" height="4" fill="#000"/>
<rect x="491" y="537" width="1" height="4" fill="#000"/>
<rect x="498" y="537" width="1" height="4" fill="#000"/>
<rect x="505" y="537" width="1" height="4" fill="#000"/>
<rect x="512" y="534" width="1" height="7" fill="#000"/>
<rect x="518" y="537" width="1" height="4" fill="#000"/>
<rect x="525" y="537" width="1" height="4" fill="#000"/>
<rect x="532" y="537" width="1" height="4" fill="#000"/>
<rect x="539" y="537" width="1" height="4" fill="#000"/>
<rect x="546" y="534" width="1" height="7" fill="#000"/>
<rect x="552" y="537" width="1" height="4" fill="#000"/>
<rect x="559" y="537" width="1" height="4" fill="#000"/>
<rect x="566" y="537" width="1" height="4" fill="#000"/>
<rect x="573" y="537" width="1" height="4" fill="#000"/>
<rect x="580" y="534" width="1" height="7" fill="#000"/>
<rect x="586" y="537" width="1" height="4" fill="#000"/>
<rect x="593" y="537" width="1" height="4" fill="#000"/>
<rect x="600" y="537" width="1" height="4" fill="#000"/>
<rect x="607" y="537" width="1" height="4" fill="#000"/>
<rect x="613" y="534" width="1" height="7" fill="#000"/>
<rect x="620" y="537" width="1" height="4" fill="#000"/>
<rect x="627" y="537" width="1" height="4" fill="#000"/>
<rect x="634" y="537" width="1" height="4" fill="#000"/>
<rect x="641" y="537" width="1" height="4" fill="#000"/>
<rect x="647" y="534" width="1" height="7" fill="#000"/>
<rect x="654" y="537" width="1" height="4" fill="#000"/>
<rect x="661" y="537" width="1" height="4" fill="#000"/>
<rect x="668" y="537" width="1" height="4" fill="#000"/>
<rect x="675" y="537" width="1" height="4" fill="#000"/>
<rect x="681" y="534" width="1" height="7" fill="#000"/>
<rect x="688" y="537" width="1" height="4" fill="#000"/>
<rect x="695" y="537" width="1" height="4" fill="#000"/>
<rect x="702" y="537" width="1" height="4" fill="#000"/>
<rect x="709" y="537" width="1" height="4" fill="#000"/>
<rect x="715" y="534" width="1" height="7" fill="#000"/>
<rect x="722" y="537" width="1" height="4" fill="#000"/>
<rect x="729" y="537" width="1" height="4" fill="#000"/>
<rect x="736" y="537" width="1" height="4" fill="#000"/>
<rect x="743" y="537" width="1" height="4" fill="#000"/>
<rect x="749" y="534" width="1" height="7" fill="#000"/>
<rect x="444" y="540" width="10" height="1" fill="#000"/>
<rect x="444" y="535" width="5" height="1" fill="#000"/>
<rect x="444" y="530" width="5" height="1" fill="#000"/>
<rect x="444" y="525" width="5" height="1" fill="#000"/>
<rect x="444" y="521" width="5" height="1" fill="#000"/>
<rect x="444" y="516" width="10" height="1" fill="#000"/>
<rect x="444" y="511" width="5" height="1" fill="#000"/>
<rect x="444" y="506" width="5" height="1" fill="#000"/>
<rect x="444" y="501" width="5" height="1" fill="#000"/>
<rect x="444" y="496" width="5" height="1" fill="#000"/>
<rect x="444" y="491" width="10" height="1" fill="#000"/>
<rect x="444" y="486" width="5" height="1" fill="#000"/>
<rect x="444" y="481" width="5" height="1" fill="#000"/>
<rect x="444" y="476" width="5" height="1" fill="#000"/>
<rect x="444" y="472" width="5" height="1" fill="#000"/>
<rect x="444" y="467" width="10" height="1" fill="#000"/>
<rect x="444" y="462" width="5" height="1" fill="#000"/>
<rect x="444" y="457" width="5" height="1" fill="#000"/>
<rect x="444" y="452" width="5" height="1" fill="#000"/>
<rect x="444" y="447" width="5" height="1" fill="#000"/>
<rect x="444" y="442" width="10" height="1" fill="#000"/>
<rect x="444" y="437" width="5" height="1" fill="#000"/>
<rect x="444" y="432" width="5" height="1" fill="#000"/>
<rect x="444" y="427" width="5" height="1" fill="#000"/>
<rect x="444" y="422" width="5" height="1" fill="#000"/>
<rect x="444" y="418" width="10" height="1" fill="#000"/>
<rect x="444" y="413" width="5" height="1" fill="#000"/>
<rect x="444" y="408" width="5" height="1" fill="#000"/>
<rect x="444" y="403" width="5" height="1" fill="#000"/>
<rect x="444" y="398" width="5" height="1" fill="#000"/>
<rect x="444" y="393" width="10" height="1" fill="#000"/>
<rect x="444" y="388" width="5" height="1" fill="#000"/>
<rect x="444" y="383" width="5" height="1" fill="#000"/>
<rect x="444" y="378" width="5" height="1" fill="#000"/>
<rect x="444" y="373" width="5" height="1" fill="#000"/>
<rect x="444" y="369" width="10" height="1" fill="#000"/>
<rect x="444" y="364" width="5" height="1" fill="#000"/>
<rect x="444" y="359" width="5" height="1" fill="#000"/>
<rect x="444" y="354" width="5" height="1" fill="#000"/>
<rect x="444" y="349" width="5" height="1" fill="#000"/>
<rect x="444" y="344" width="10" height="1" fill="#000"/>
<rect x="444" y="339" width="5" height="1" fill="#000"/>
<rect x="444" y="334" width="5" height="1" fill="#000"/>
<rect x="444" y="329" width="5" height="1" fill="#000"/>
<rect x="444" y="324" width="5" height="1" fill="#000"/>
</g>
<g class="t" font-weight="bold" font-size="8" stroke="#000" stroke-width="0.25">
<text transform="translate(443.10 549.30) scale(0.952 1)" font-size="8.40" text-anchor="middle">0.5</text>
<text transform="translate(476.55 549.00) scale(0.952 1)" font-size="8.40" text-anchor="middle">1</text>
<text transform="translate(510.51 549.00) scale(0.952 1)" font-size="8.40" text-anchor="middle">1.5</text>
<text transform="translate(544.46 549.00) scale(0.952 1)" font-size="8.40" text-anchor="middle">2</text>
<text transform="translate(578.42 549.00) scale(0.952 1)" font-size="8.40" text-anchor="middle">2.5</text>
<text transform="translate(612.37 549.00) scale(0.952 1)" font-size="8.40" text-anchor="middle">3</text>
<text transform="translate(646.33 549.00) scale(0.952 1)" font-size="8.40" text-anchor="middle">3.5</text>
<text transform="translate(680.28 549.00) scale(0.952 1)" font-size="8.40" text-anchor="middle">4</text>
<text transform="translate(714.24 549.00) scale(0.952 1)" font-size="8.40" text-anchor="middle">4.5</text>
<text transform="translate(748.19 549.00) scale(0.952 1)" font-size="8.40" text-anchor="middle">5</text>
<text transform="translate(441.60 545.10) scale(0.952 1)" font-size="8.40" text-anchor="end">0</text>
<text transform="translate(440.00 520.00) scale(0.952 1)" font-size="8.40" text-anchor="end">1000</text>
<text transform="translate(440.00 495.00) scale(0.952 1)" font-size="8.40" text-anchor="end">2000</text>
<text transform="translate(440.00 471.00) scale(0.952 1)" font-size="8.40" text-anchor="end">3000</text>
<text transform="translate(440.00 446.00) scale(0.952 1)" font-size="8.40" text-anchor="end">4000</text>
<text transform="translate(440.00 422.00) scale(0.952 1)" font-size="8.40" text-anchor="end">5000</text>
<text transform="translate(440.00 397.00) scale(0.952 1)" font-size="8.40" text-anchor="end">6000</text>
<text transform="translate(440.00 373.00) scale(0.952 1)" font-size="8.40" text-anchor="end">7000</text>
<text transform="translate(440.00 348.00) scale(0.952 1)" font-size="8.40" text-anchor="end">8000</text>
<text transform="translate(426.4 432.0) rotate(-90) scale(0.952 1)" font-size="8.40" text-anchor="middle">Events</text>
<text transform="translate(558.10 561.00) scale(0.952 1)" font-size="8.40">m</text>
<text transform="translate(565.50 564.30) scale(0.952 1)" font-size="6.30" stroke-width="0.2">inv</text>
<text transform="translate(574.80 561.00) scale(0.952 1)" font-size="8.40">[D</text>
<text transform="translate(584.80 555.30) scale(0.952 1)" font-size="6.09">0</text>
<rect x="578" y="550" width="12" height="2" fill="#000" stroke="none"/>
<text transform="translate(588.70 561.00) scale(0.952 1)" font-size="9.24" font-weight="normal" stroke-width="0.15">π</text>
<text transform="translate(593.60 556.80) scale(0.952 1)" font-size="6.72">-</text>
<text transform="translate(595.40 561.00) scale(0.952 1)" font-size="8.40">][GeV/c</text>
<text transform="translate(628.00 556.20) scale(0.952 1)" font-size="6.30">2</text>
<text transform="translate(631.80 561.00) scale(0.952 1)" font-size="8.40">]</text>
</g>
<rect x="642" y="310" width="139" height="100" fill="#fff"/>
<g>
<rect x="642" y="310" width="139" height="1" fill="#000"/>
<rect x="642" y="409" width="139" height="1" fill="#000"/>
<rect x="642" y="310" width="1" height="100" fill="#000"/>
<rect x="780" y="310" width="1" height="100" fill="#000"/>
<rect x="642" y="323" width="139" height="1" fill="#000"/>
</g>
<g class="t" font-size="9.8" stroke="#000" stroke-width="0.2">
<text transform="translate(679.10 320.50) scale(0.952 1)" font-size="10.40">InvMass_D*-</text>
</g>
<g class="t" font-size="8" stroke="#000" stroke-width="0.2">
<text transform="translate(649.00 333.00) scale(0.952 1)" font-size="8.40">Entries</text>
<text transform="translate(769.55 333.00) scale(0.952 1)" font-size="8.40" text-anchor="end">135482</text>
<text transform="translate(649.00 345.00) scale(0.952 1)" font-size="8.40">Mean</text>
<text transform="translate(769.55 345.00) scale(0.952 1)" font-size="8.40" text-anchor="end">1.894</text>
<text transform="translate(649.00 358.00) scale(0.952 1)" font-size="8.40">RMS</text>
<text transform="translate(769.55 358.00) scale(0.952 1)" font-size="8.40" text-anchor="end">0.5869</text>
<text transform="translate(649.00 370.00) scale(0.952 1)" font-size="8.40">χ</text>
<text transform="translate(653.80 367.00) scale(0.952 1)" font-size="5.88">2</text>
<text transform="translate(659.40 370.00) scale(0.952 1)" font-size="8.40">/ ndf</text>
<text transform="translate(766.65 370.00) scale(0.952 1)" font-size="8.40" text-anchor="end">9.439e-09 / 0</text>
<text transform="translate(649.00 382.00) scale(0.952 1)" font-size="8.40">Constant</text>
<text transform="translate(771.15 382.00) scale(0.952 1)" font-size="8.40" text-anchor="end">92.6</text>
<text transform="translate(747.98 382.00) scale(0.952 1)" font-size="8.40">±</text>
<text transform="translate(742.18 382.00) scale(0.952 1)" font-size="8.40" text-anchor="end">8594</text>
<text transform="translate(649.00 395.00) scale(0.952 1)" font-size="8.40">Mean</text>
<text transform="translate(770.55 395.00) scale(0.952 1)" font-size="8.40" text-anchor="end">0.000</text>
<text transform="translate(742.93 395.00) scale(0.952 1)" font-size="8.40">±</text>
<text transform="translate(737.13 395.00) scale(0.952 1)" font-size="8.40" text-anchor="end">2.011</text>
<text transform="translate(649.00 406.00) scale(0.952 1)" font-size="8.40">Sigma</text>
<text transform="translate(769.55 406.00) scale(0.952 1)" font-size="8.40" text-anchor="end">0.00048</text>
<text transform="translate(733.03 406.00) scale(0.952 1)" font-size="8.40">±</text>
<text transform="translate(727.23 406.00) scale(0.952 1)" font-size="8.40" text-anchor="end">0.04002</text>
</g>
</svg>
</body>
</html>
